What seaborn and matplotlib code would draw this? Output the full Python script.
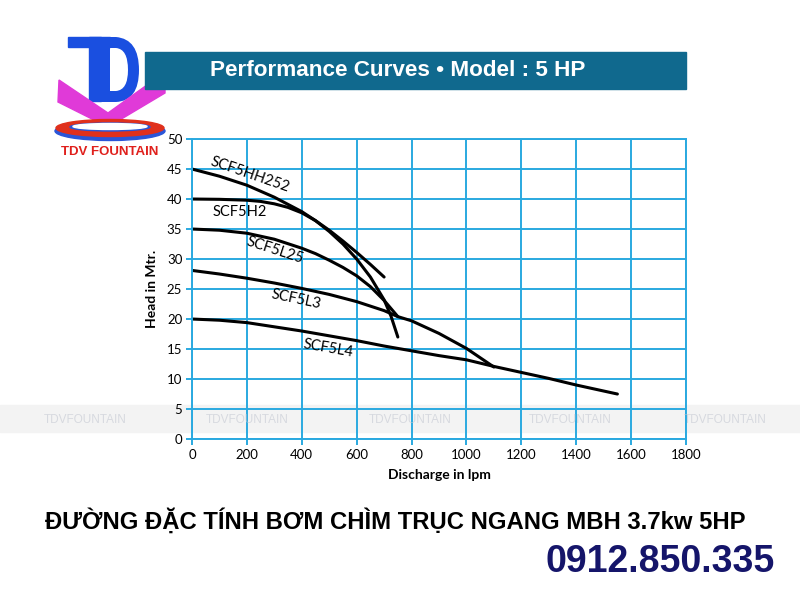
import numpy as np
import pandas as pd
import seaborn as sns
import matplotlib.pyplot as plt
from matplotlib.patches import Rectangle, Polygon, Ellipse, PathPatch
from matplotlib.path import Path

# Discharge (lpm) and head (m)
hh252_q = [0, 100, 200, 300, 400, 450, 500, 550, 600, 650, 700, 725, 750]
hh252_h = [45, 43.8, 42.3, 40.3, 37.9, 36.4, 34.6, 32.5, 30.0, 27.0, 23.2, 20.5, 17.0]
h2_q = [0, 100, 200, 250, 300, 350, 400, 450, 500, 550, 600, 650, 700]
h2_h = [40, 39.95, 39.8, 39.6, 39.2, 38.6, 37.7, 36.4, 34.8, 33.0, 31.1, 29.1, 27.0]
l25_q = [0, 100, 200, 300, 400, 450, 500, 550, 600, 650, 700, 750]
l25_h = [35, 34.8, 34.3, 33.3, 31.8, 30.9, 29.8, 28.6, 27.2, 25.4, 23.1, 20.4]
l3_q = [0, 100, 200, 300, 400, 500, 600, 700, 750, 800, 900, 1000, 1100]
l3_h = [28.1, 27.5, 26.8, 26.0, 25.1, 24.1, 22.9, 21.4, 20.4, 19.7, 17.6, 15.1, 12.0]
l4_q = [0, 100, 200, 300, 400, 500, 600, 700, 800, 900, 1000, 1100, 1200, 1300, 1400, 1500, 1550]
l4_h = [20, 19.8, 19.4, 18.7, 18.0, 17.2, 16.4, 15.5, 14.7, 13.9, 13.2, 12.1, 11.1, 10.1, 9.0, 8.0, 7.5]

models = ["SCF5HH252", "SCF5H2", "SCF5L25", "SCF5L3", "SCF5L4"]
label_q = [213, 175, 302, 378, 498]
label_h = [44.1, 37.9, 31.4, 23.2, 15.1]
label_rot = [-19, 0, -18, -12, -10]

x_ticks = list(range(0, 1801, 200))
y_ticks = list(range(0, 51, 5))

rows = []
for name, q, h in zip(models, [hh252_q, h2_q, l25_q, l3_q, l4_q],
                      [hh252_h, h2_h, l25_h, l3_h, l4_h]):
    for a, b in zip(q, h):
        rows.append({"model": name, "q": a, "h": b})
df = pd.DataFrame(rows)

sns.set_theme(style="white")
plt.rcParams['font.family'] = ['Lato', 'DejaVu Sans']

fig = plt.figure(figsize=(8, 6), dpi=100)
fig.patch.set_facecolor("white")

# background overlay in pixel coordinates for logo, banner and captions
bg = fig.add_axes([0, 0, 1, 1], zorder=0)
bg.set_xlim(0, 800)
bg.set_ylim(600, 0)
bg.axis("off")

arial = ["Liberation Sans", "DejaVu Sans"]
blue_logo = "#1a4fe0"
bg.add_patch(Rectangle((68, 37), 42, 10, color=blue_logo))
bg.add_patch(Rectangle((89, 37), 12, 64, color=blue_logo))
d_verts = [(100, 37), (116, 37), (139, 39), (139, 70), (139, 101), (116, 102), (100, 102), (100, 37),
           (110, 48), (110, 91), (116, 91), (128, 90), (128, 70), (128, 49), (116, 48), (110, 48)]
d_codes = [Path.MOVETO, Path.LINETO, Path.CURVE3, Path.CURVE3, Path.CURVE3, Path.CURVE3, Path.LINETO, Path.CLOSEPOLY,
           Path.MOVETO, Path.LINETO, Path.LINETO, Path.CURVE3, Path.CURVE3, Path.CURVE3, Path.CURVE3, Path.CLOSEPOLY]
bg.add_patch(PathPatch(Path(d_verts, d_codes), facecolor=blue_logo, edgecolor="none"))
bg.add_patch(Polygon([(59, 80), (108, 113), (165, 72), (165, 93), (108, 127), (58, 102)],
                     closed=True, color="#e03ad8"))
bg.add_patch(Ellipse((110, 131), 110, 19, color="#2a55d8"))
bg.add_patch(Ellipse((110, 128), 108, 17, color="#e0301c"))
bg.add_patch(Ellipse((110, 127), 80, 8, color="#2a55d8"))
bg.add_patch(Ellipse((110, 126.5), 74, 6, color="white"))
bg.text(110, 152, "TDV FOUNTAIN", color="#e0201c", fontsize=9.5, fontweight="bold",
        ha="center", va="center", family=arial)

bg.add_patch(Rectangle((145, 52), 541, 37, color="#10698e"))
bg.text(398, 71, "Performance Curves \u2022 Model : 5 HP", color="white", fontsize=16.2,
        fontweight="bold", ha="center", va="center", family=arial)

bg.add_patch(Rectangle((0, 405), 800, 27, color="#f3f3f3"))

bg.text(45, 521, "ĐƯỜNG ĐẶC TÍNH BƠM CHÌM TRỤC NGANG MBH 3.7kw 5HP", color="black",
        fontsize=17.2, fontweight="bold", ha="left", va="center", family=arial)
bg.text(775, 562, "0912.850.335", color="#15156a", fontsize=27, fontweight="bold",
        ha="right", va="center", family=arial)

# main chart
ax = fig.add_axes([0.24, 0.2683, 0.6175, 0.5], zorder=1)
ax.patch.set_alpha(0)
grid_blue = "#2aa9e0"
sns.lineplot(data=df, x="q", y="h", hue="model", palette=["black"] * 5,
             estimator=None, sort=False, lw=2.2, legend=False, ax=ax)
ax.set_xlim(0, 1800)
ax.set_ylim(0, 50)
ax.set_xticks(x_ticks)
ax.set_yticks(y_ticks)
ax.grid(True, color=grid_blue, lw=1.4)
ax.set_axisbelow(True)
for s in ax.spines.values():
    s.set_color(grid_blue)
    s.set_linewidth(1.4)
ax.tick_params(axis="both", colors=grid_blue, length=4, width=1.4, labelsize=9.5,
               labelcolor="black", pad=3, left=True, bottom=True)
ax.set_xlabel("Discharge in lpm", fontsize=10, fontweight="bold", color="black", labelpad=6)
ax.set_ylabel("Head in Mtr.", fontsize=10, fontweight="bold", color="black", labelpad=6)

for name, q, h, r in zip(models, label_q, label_h, label_rot):
    ax.text(q, h, name, fontsize=10.5, rotation=r, ha="center", va="center", color="black")

# faint watermark on top
for wx in [85, 247, 410, 570, 725]:
    fig.text(wx / 800, 1 - 420 / 600, "TDVFOUNTAIN", color="#c4c8d2", alpha=0.6,
             fontsize=8.5, ha="center", va="center", zorder=5, family=arial)

fig.savefig("out.png", dpi=100)
